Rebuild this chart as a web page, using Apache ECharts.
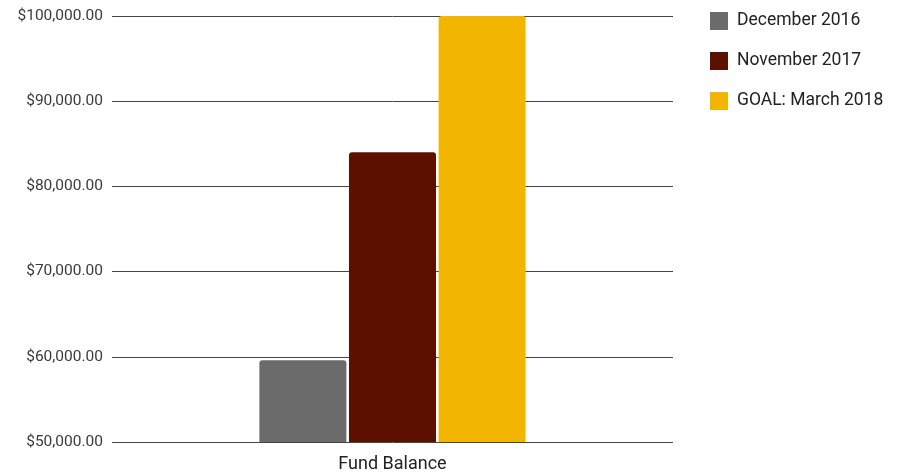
<!DOCTYPE html>
<html><head><meta charset="utf-8">
<script src="https://cdn.jsdelivr.net/npm/echarts@6/dist/echarts.min.js"></script>
<style>html,body{margin:0;padding:0;background:#fff}#c{width:907px;height:473px}</style>
</head><body><div id="c"></div>
<script>
const categories = ['Fund Balance'];
const seriesNames = ['December 2016', 'November 2017', 'GOAL: March 2018'];
const dec2016 = [59600];
const nov2017 = [84000];
const goal2018 = [100000];
const colors = ['#6b6b6b', '#5c1100', '#f2b600'];
const values = [dec2016, nov2017, goal2018];

const chart = echarts.init(document.getElementById('c'));
chart.setOption({
  animation: false,
  textStyle: { fontFamily: 'Roboto' },
  grid: { left: 112, right: 234, top: 16, bottom: 30, containLabel: false },
  legend: {
    orient: 'vertical', left: 705, top: 7,
    itemWidth: 18, itemHeight: 18, itemGap: 22,
    icon: 'rect',
    itemStyle: { borderRadius: 2 },
    textStyle: { fontSize: 17.5, color: '#222', fontFamily: 'Roboto', padding: [0, 0, 0, 4] },
    data: seriesNames
  },
  xAxis: {
    type: 'category', data: categories,
    axisLine: { show: false }, axisTick: { show: false },
    axisLabel: { fontSize: 18, color: '#222', margin: 13 }
  },
  yAxis: {
    type: 'value', min: 50000, max: 100000, interval: 10000,
    axisLine: { show: false }, axisTick: { show: false },
    splitLine: { lineStyle: { color: '#444', width: 1 } },
    axisLabel: {
      fontSize: 15.5, color: '#3a3a3a', margin: 9,
      formatter: v => '$' + v.toLocaleString('en-US', { minimumFractionDigits: 2, maximumFractionDigits: 2 })
    }
  },
  series: seriesNames.map((n, i) => ({
    name: n, type: 'bar', data: values[i],
    barWidth: 87, barGap: '3%',
    itemStyle: { color: colors[i], borderRadius: [3, 3, 0, 0] }
  }))
});
</script></body></html>
